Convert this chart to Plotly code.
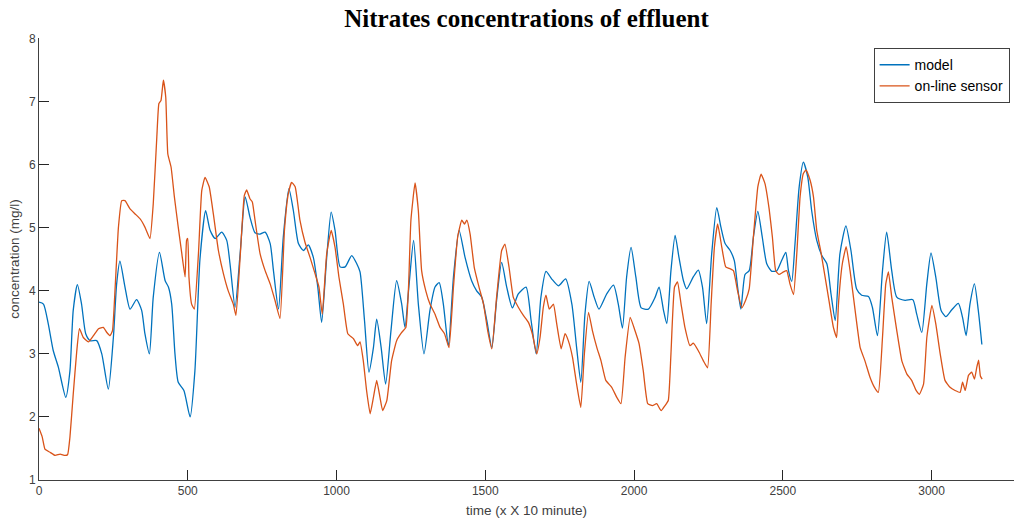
import plotly.graph_objects as go

# ---- data ----
model_x = [0, 15, 31, 48, 65, 90, 104, 115, 129, 143, 157, 172, 194, 211, 233, 250, 261, 272, 289, 306,
           328, 345, 356, 371, 384, 405, 424, 435, 446, 457, 468, 487, 508, 524, 541, 560, 575, 592, 614,
           631, 642, 659, 676, 693, 709, 726, 743, 760, 777, 788, 805, 821, 840, 855, 872, 889, 905, 922,
           937, 950, 967, 982, 995, 1012, 1029, 1051, 1068, 1079, 1094, 1109, 1124, 1135, 1150, 1165, 1183,
           1202, 1219, 1230, 1244, 1259, 1275, 1294, 1314, 1331, 1345, 1359, 1376, 1393, 1412, 1432, 1454,
           1471, 1488, 1505, 1522, 1538, 1555, 1572, 1591, 1611, 1637, 1654, 1671, 1687, 1704, 1723, 1746,
           1770, 1791, 1807, 1821, 1835, 1849, 1866, 1882, 1908, 1931, 1947, 1961, 1975, 1990, 2006, 2024,
           2048, 2071, 2084, 2099, 2110, 2124, 2138, 2151, 2166, 2177, 2199, 2216, 2230, 2244, 2261, 2278,
           2292, 2306, 2323, 2337, 2348, 2359, 2373, 2387, 2401, 2416, 2431, 2446, 2463, 2480, 2496, 2510,
           2519, 2530, 2541, 2555, 2569, 2584, 2597, 2614, 2631, 2648, 2662, 2676, 2692, 2712, 2729, 2748,
           2765, 2788, 2801, 2818, 2835, 2849, 2866, 2883, 2911, 2937, 2950, 2967, 2984, 2998, 3014, 3032,
           3048, 3068, 3090, 3104, 3116, 3129, 3144, 3157, 3169]
model_y = [3.82, 3.79, 3.48, 3.05, 2.79, 2.31, 2.73, 3.69, 4.10, 3.79, 3.32, 3.21, 3.21, 3.00, 2.44, 3.26,
           4.11, 4.47, 4.06, 3.71, 3.86, 3.69, 3.32, 3.00, 3.90, 4.61, 4.16, 4.06, 3.79, 3.00, 2.55, 2.42,
           2.00, 2.73, 4.50, 5.27, 4.96, 4.83, 4.93, 4.80, 4.43, 3.74, 4.59, 5.49, 5.17, 4.92, 4.90, 4.93,
           4.75, 4.32, 3.71, 4.85, 5.62, 5.27, 4.75, 4.64, 4.73, 4.53, 4.06, 3.50, 4.53, 5.25, 4.96, 4.38,
           4.38, 4.56, 4.43, 4.30, 3.53, 2.71, 3.10, 3.55, 3.10, 2.52, 3.37, 4.16, 3.79, 3.42, 4.11, 4.80,
           3.79, 3.00, 3.69, 4.06, 4.13, 3.79, 3.13, 4.22, 4.96, 4.53, 4.16, 4.00, 3.90, 3.53, 3.10, 3.85,
           4.45, 4.06, 3.73, 3.95, 4.06, 3.53, 3.00, 3.90, 4.31, 4.19, 4.08, 4.19, 3.79, 3.10, 2.55, 3.63,
           4.15, 3.90, 3.71, 3.95, 4.09, 3.79, 3.41, 4.22, 4.69, 4.22, 3.73, 3.71, 3.90, 4.06, 3.69, 3.48,
           4.32, 4.88, 4.53, 4.16, 4.03, 4.22, 4.33, 4.06, 3.48, 4.59, 5.32, 5.01, 4.75, 4.64, 4.48, 4.06,
           3.71, 4.26, 4.32, 4.85, 5.26, 4.85, 4.43, 4.31, 4.32, 4.48, 4.61, 4.32, 4.15, 4.75, 5.65, 6.04,
           5.80, 5.27, 4.80, 4.56, 4.43, 3.95, 3.53, 4.59, 5.03, 4.64, 4.03, 3.93, 3.91, 3.74, 3.29, 4.32,
           4.93, 4.32, 3.90, 3.85, 3.86, 3.63, 3.34, 4.11, 4.60, 4.22, 3.69, 3.59, 3.70, 3.80, 3.58, 3.29,
           3.79, 4.11, 3.69, 3.15]

sensor_x = [0, 11, 20, 37, 54, 71, 87, 96, 104, 115, 127, 136, 149, 166, 183, 200, 216, 228, 239, 247, 256,
            267, 278, 289, 306, 323, 340, 356, 373, 384, 396, 403, 410, 418, 426, 433, 444, 455, 468, 480,
            491, 496, 500, 504, 513, 522, 536, 547, 558, 572, 586, 603, 620, 636, 653, 662, 676, 690, 698,
            709, 717, 726, 743, 760, 777, 793, 810, 825, 838, 849, 861, 877, 894, 911, 928, 941, 952, 967,
            982, 995, 1008, 1023, 1038, 1057, 1071, 1079, 1090, 1101, 1113, 1124, 1135, 1146, 1155, 1169,
            1185, 1202, 1219, 1233, 1242, 1250, 1264, 1275, 1286, 1300, 1314, 1331, 1348, 1363, 1378, 1393,
            1407, 1421, 1430, 1438, 1449, 1463, 1479, 1494, 1508, 1522, 1538, 1555, 1566, 1580, 1594, 1611,
            1628, 1645, 1658, 1673, 1684, 1695, 1704, 1715, 1729, 1740, 1755, 1768, 1779, 1793, 1807, 1821,
            1833, 1847, 1860, 1875, 1889, 1905, 1925, 1942, 1956, 1970, 1987, 2003, 2017, 2031, 2046, 2062,
            2076, 2091, 2104, 2115, 2124, 2136, 2146, 2158, 2171, 2188, 2199, 2216, 2233, 2247, 2259, 2270,
            2281, 2295, 2308, 2323, 2334, 2348, 2362, 2375, 2387, 2401, 2416, 2427, 2440, 2454, 2465, 2476,
            2487, 2502, 2513, 2524, 2536, 2547, 2558, 2569, 2578, 2592, 2603, 2614, 2629, 2642, 2655, 2670,
            2681, 2687, 2700, 2713, 2726, 2743, 2760, 2776, 2793, 2808, 2821, 2835, 2846, 2855, 2866, 2883,
            2900, 2917, 2933, 2948, 2959, 2973, 2984, 3001, 3014, 3029, 3045, 3062, 3079, 3096, 3104, 3113,
            3124, 3135, 3144, 3152, 3158, 3164, 3170]
sensor_y = [1.82, 1.68, 1.49, 1.44, 1.39, 1.41, 1.39, 1.40, 1.68, 2.36, 3.05, 3.40, 3.26, 3.19, 3.29, 3.40,
            3.42, 3.34, 3.29, 3.37, 4.06, 5.01, 5.43, 5.43, 5.30, 5.22, 5.14, 5.01, 4.83, 5.38, 6.44, 6.97,
            7.02, 7.34, 7.07, 6.17, 5.96, 5.49, 5.01, 4.59, 4.22, 4.80, 4.83, 4.22, 3.79, 3.71, 4.60, 5.59,
            5.80, 5.65, 5.22, 4.64, 4.27, 4.00, 3.79, 3.61, 4.53, 5.51, 5.60, 5.46, 5.41, 5.12, 4.59, 4.32,
            4.11, 3.85, 3.56, 4.96, 5.54, 5.72, 5.65, 5.12, 4.77, 4.53, 4.27, 4.06, 3.63, 4.59, 4.96, 4.69,
            4.22, 3.79, 3.32, 3.24, 3.13, 3.19, 2.89, 2.42, 2.05, 2.31, 2.58, 2.31, 2.10, 2.26, 2.89, 3.21,
            3.34, 3.42, 4.06, 5.12, 5.71, 5.27, 4.32, 4.00, 3.79, 3.63, 3.42, 3.32, 3.10, 4.06, 4.85, 5.12,
            5.06, 5.12, 4.90, 4.37, 4.06, 3.79, 3.37, 3.08, 3.90, 4.64, 4.74, 4.37, 3.90, 3.74, 3.61, 3.50,
            3.32, 3.00, 3.26, 3.74, 3.93, 3.71, 3.79, 3.48, 3.08, 3.32, 3.21, 2.95, 2.52, 2.15, 3.00, 3.66,
            3.37, 3.10, 2.89, 2.58, 2.47, 2.31, 2.21, 2.95, 3.58, 3.37, 3.16, 2.73, 2.21, 2.18, 2.21, 2.10,
            2.18, 2.26, 3.00, 4.06, 4.14, 3.79, 3.42, 3.13, 3.17, 3.05, 2.89, 2.78, 3.79, 4.69, 5.06, 4.69,
            4.38, 4.35, 4.32, 4.00, 3.73, 3.85, 4.03, 4.85, 5.65, 5.85, 5.70, 5.30, 4.85, 4.32, 4.26, 4.30,
            4.32, 4.11, 3.94, 4.59, 5.49, 5.86, 5.92, 5.75, 5.49, 4.96, 4.59, 4.22, 3.85, 3.42, 3.26, 3.79,
            4.43, 4.70, 4.32, 3.69, 3.10, 2.89, 2.63, 2.47, 2.39, 3.26, 4.11, 4.30, 3.90, 3.37, 2.89, 2.68,
            2.58, 2.42, 2.36, 2.52, 3.26, 3.77, 3.48, 3.00, 2.58, 2.47, 2.42, 2.39, 2.55, 2.42, 2.66, 2.71,
            2.60, 2.79, 2.90, 2.65, 2.60]

x_ticks = [0, 500, 1000, 1500, 2000, 2500, 3000]
y_ticks = [1, 2, 3, 4, 5, 6, 7, 8]

series_names = ["model", "on-line sensor"]
colors = ["#0072BD", "#D95319"]

fig = go.Figure()
fig.add_trace(go.Scatter(x=model_x, y=model_y, mode="lines", name=series_names[0],
                         line=dict(color=colors[0], width=1.3, shape="spline", smoothing=0.6)))
fig.add_trace(go.Scatter(x=sensor_x, y=sensor_y, mode="lines", name=series_names[1],
                         line=dict(color=colors[1], width=1.3, shape="spline", smoothing=0.4)))

axis_color = "#404040"
tick_color = "#262626"
fig.update_layout(
    width=1014, height=520,
    margin=dict(l=39, r=0, t=38, b=40),
    paper_bgcolor="white", plot_bgcolor="white",
    title=dict(text="<b>Nitrates concentrations of effluent</b>", x=0.5, xref="paper",
               y=0.965, yref="container", xanchor="center", yanchor="middle",
               font=dict(family="Liberation Serif, Times New Roman, serif", size=25, color="black")),
    font=dict(family="Liberation Sans, Arial, sans-serif", size=12, color=axis_color),
    legend=dict(x=0.9955, y=0.977, xanchor="right", yanchor="top",
                bgcolor="white", bordercolor=axis_color, borderwidth=1,
                font=dict(size=14, color="black"), tracegroupgap=0,
                itemwidth=30),
    showlegend=True,
)
fig.update_xaxes(range=[0, 3277], tickmode="array", tickvals=x_ticks, ticktext=[str(v) for v in x_ticks],
                 showgrid=False, zeroline=False, showline=True, linecolor=axis_color, linewidth=1,
                 ticks="inside", ticklen=10, tickcolor=tick_color, tickwidth=1, automargin=False,
                 layer="above traces",
                 tickfont=dict(size=12, color=axis_color),
                 title=dict(text="time (x X 10 minute)", font=dict(size=13.5, color=axis_color), standoff=8))
fig.update_yaxes(range=[1, 8.01], tickmode="array", tickvals=y_ticks, ticktext=[str(v) for v in y_ticks],
                 showgrid=False, zeroline=False, showline=True, linecolor=axis_color, linewidth=1,
                 ticks="inside", ticklen=10, tickcolor=tick_color, tickwidth=1, automargin=False,
                 layer="above traces",
                 tickfont=dict(size=12, color=axis_color),
                 title=dict(text="concentration (mg/l)", font=dict(size=13.5, color=axis_color), standoff=6))

fig.write_html("out.html")
